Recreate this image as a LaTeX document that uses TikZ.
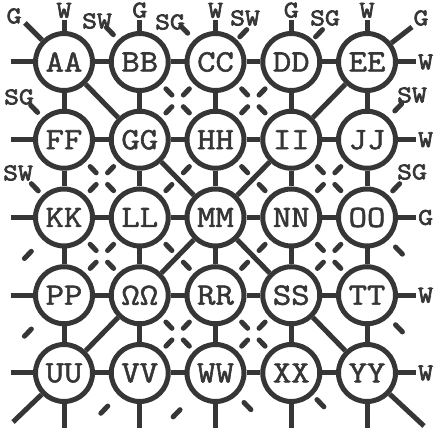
\documentclass[tikz,border=0pt]{standalone}
\usepackage{fontspec}
\newfontfamily\typefont[FakeBold=1.8,FakeStretch=1.15]{Latin Modern Mono}
\newfontfamily\tagfont[FakeBold=3,FakeStretch=1.2]{Latin Modern Mono}
\usetikzlibrary{positioning,calc}
\definecolor{ink}{HTML}{363636}

\begin{document}
\begin{tikzpicture}[x=1pt, y=1pt,
    cell/.style={circle, draw=ink, line width=5pt, minimum size=57pt, inner sep=0pt,
                 text=ink, font=\typefont\fontsize{31}{31}\selectfont},
    link/.style={draw=ink, line width=5pt},
    broken/.style={draw=ink, line width=5pt, line cap=round},
    tag/.style={text=ink, inner sep=0pt, font=\tagfont\fontsize{24}{24}\selectfont},
]
\useasboundingbox (0,0) rectangle (434,428);

% the 5x5 grid of cells
\node[cell] (aa) at (64,366) {AA};
\node[cell,right=13.75pt of aa] (bb) {BB};
\node[cell,right=13.75pt of bb] (cc) {CC};
\node[cell,right=13.75pt of cc] (dd) {DD};
\node[cell,right=13.75pt of dd] (ee) {EE};

\node[cell,below=15.75pt of aa] (ff) {FF};
\node[cell,right=13.75pt of ff] (gg) {GG};
\node[cell,right=13.75pt of gg] (hh) {HH};
\node[cell,right=13.75pt of hh] (ii) {II};
\node[cell,right=13.75pt of ii] (jj) {JJ};

\node[cell,below=15.75pt of ff] (kk) {KK};
\node[cell,right=13.75pt of kk] (ll) {LL};
\node[cell,right=13.75pt of ll] (mm) {MM};
\node[cell,right=13.75pt of mm] (nn) {NN};
\node[cell,right=13.75pt of nn] (oo) {OO};

\node[cell,below=15.75pt of kk] (pp) {PP};
\node[cell,right=13.75pt of pp] (qq) {ΩΩ};
\node[cell,right=13.75pt of qq] (rr) {RR};
\node[cell,right=13.75pt of rr] (ss) {SS};
\node[cell,right=13.75pt of ss] (tt) {TT};

\node[cell,below=15.75pt of pp] (uu) {UU};
\node[cell,right=13.75pt of uu] (vv) {VV};
\node[cell,right=13.75pt of vv] (ww) {WW};
\node[cell,right=13.75pt of ww] (xx) {XX};
\node[cell,right=13.75pt of xx] (yy) {YY};

% links between neighbours
\foreach \a/\b in {aa/bb,bb/cc,cc/dd,dd/ee, ff/gg,gg/hh,hh/ii,ii/jj,
                   kk/ll,ll/mm,mm/nn,nn/oo, pp/qq,qq/rr,rr/ss,ss/tt,
                   uu/vv,vv/ww,ww/xx,xx/yy,
                   aa/ff,ff/kk,kk/pp,pp/uu, bb/gg,gg/ll,ll/qq,qq/vv,
                   cc/hh,hh/mm,mm/rr,rr/ww, dd/ii,ii/nn,nn/ss,ss/xx,
                   ee/jj,jj/oo,oo/tt,tt/yy}
  \draw[link] (\a) -- (\b);

% solid diagonals
\foreach \a/\b in {aa/gg,ee/ii,gg/mm,ii/mm,qq/mm,ss/mm,qq/uu,ss/yy}
  \draw[link] (\a) -- (\b);

% broken diagonals
\foreach \a/\b in {bb/hh,cc/gg,cc/ii,dd/hh,ff/ll,gg/kk,hh/ll,hh/nn,ii/oo,jj/nn,
                   kk/qq,ll/pp,ll/rr,nn/rr,nn/tt,oo/ss,qq/ww,rr/vv,rr/xx,ss/ww}
  \draw[broken] ($(\a)!.345!(\b)$) -- ($(\a)!.425!(\b)$)
                ($(\b)!.345!(\a)$) -- ($(\b)!.425!(\a)$);

% broken diagonals at the rim
\foreach \n/\ang/\r/\s in {bb/134/38/48, cc/134/40/50, cc/46/35/45, dd/46/35/45,
                           jj/46/40/50, oo/46/37/47, oo/314/41/51, tt/314/41/51,
                           vv/226/46/56, ww/226/51/61, ww/314/41/51, xx/314/37/47,
                           ff/134/38/48, kk/134/37/47, kk/226/47/57, pp/226/47/57}
  \draw[broken] ([shift={(\ang:\r)}]\n.center) -- ([shift={(\ang:\s)}]\n.center);

% stubs to the outside
\foreach \n in {aa,bb,cc,dd,ee}{
  \coordinate (\n-top) at ([yshift=11pt]\n.north);
  \draw[link] (\n) -- (\n-top);
}
\foreach \n in {uu,vv,ww,xx,yy}{
  \coordinate (\n-bot) at ([yshift=-26pt]\n.south);
  \draw[link] (\n) -- (\n-bot);
}
\foreach \n in {aa,ff,kk,pp,uu}{
  \coordinate (\n-left) at ([xshift=-22pt]\n.west);
  \draw[link] (\n) -- (\n-left);
}
\foreach \n in {ee,jj,oo,tt,yy}{
  \coordinate (\n-right) at ([xshift=18pt]\n.east);
  \draw[link] (\n) -- (\n-right);
}

% long corner lines
\coordinate (aa-out) at (25,405);
\coordinate (ee-out) at (412,401);
\coordinate (uu-out) at (13,6);
\coordinate (yy-out) at (424,2);
\foreach \n in {aa,ee,uu,yy}
  \draw[link] (\n) -- (\n-out);

% rim labels
\node[tag,above=2pt of aa-top] (aa-tag) {W};
\node[tag,above=2pt of bb-top] (bb-tag) {G};
\node[tag,above=2pt of cc-top] (cc-tag) {W};
\node[tag,above=2pt of dd-top] (dd-tag) {G};
\node[tag,above=2pt of ee-top] (ee-tag) {W};

\node[tag,right=2pt of ee-right] (ee-rtag) {W};
\node[tag,right=2pt of jj-right] (jj-rtag) {W};
\node[tag,right=2pt of oo-right] (oo-rtag) {G};
\node[tag,right=2pt of tt-right] (tt-rtag) {W};
\node[tag,right=2pt of yy-right] (yy-rtag) {W};

\node[tag] (nw-tag) at (14,412) {G};
\node[tag] (ne-tag) at (421,410) {G};
\node[tag] (ab-tag) at (97,407) {SW};
\node[tag] (bc-tag) at (170,406) {SG};
\node[tag] (cd-tag) at (245,410) {SW};
\node[tag] (de-tag) at (325,410) {SG};
\node[tag] (ej-tag) at (412,333) {SW};
\node[tag] (jo-tag) at (412,256) {SG};
\node[tag] (af-tag) at (19,331) {SG};
\node[tag] (fk-tag) at (18,255) {SW};

\end{tikzpicture}
\end{document}
